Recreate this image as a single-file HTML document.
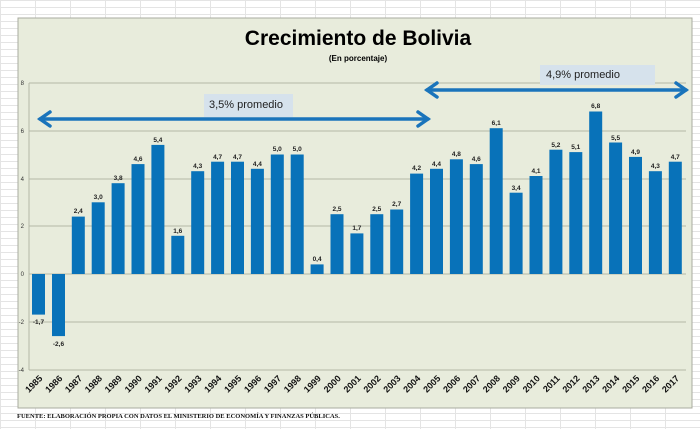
<!DOCTYPE html>
<html><head><meta charset="utf-8"><style>
body{margin:0;width:700px;height:429px;overflow:hidden;background:#fff;
background-image:linear-gradient(#e4e4e4 1px,transparent 1px),linear-gradient(90deg,#e4e4e4 1px,transparent 1px);
background-size:35px 7px,35px 7px;}
svg{position:absolute;left:0;top:0}
</style></head><body>
<svg width="700" height="429" font-family="Liberation Sans, sans-serif">
<rect x="18" y="18" width="674" height="390" fill="#e8ecdc" stroke="#a9ab9f"/>
<g stroke="#b4b8a6" stroke-width="1">
<line x1="29" y1="83" x2="686" y2="83"/><line x1="29" y1="131" x2="686" y2="131"/>
<line x1="29" y1="179" x2="686" y2="179"/><line x1="29" y1="226" x2="686" y2="226"/>
<line x1="29" y1="322" x2="686" y2="322"/><line x1="29" y1="370" x2="686" y2="370"/>
<line x1="29" y1="83" x2="29" y2="370"/><line x1="29" y1="274" x2="686" y2="274"/>
</g>
<g font-size="6" fill="#333" text-anchor="end">
<text x="24" y="85">8</text><text x="24" y="133">6</text><text x="24" y="181">4</text><text x="24" y="228">2</text><text x="24" y="276">0</text><text x="24" y="324">-2</text><text x="24" y="372">-4</text>
</g>
<text x="358" y="45" font-size="21" font-weight="bold" text-anchor="middle">Crecimiento de Bolivia</text>
<text x="358" y="61" font-size="8" font-weight="bold" text-anchor="middle">(En porcentaje)</text>
<g fill="#0872b9">
<rect x="32" y="274" width="13" height="40.6"/><rect x="52" y="274" width="13" height="62.1"/>
<rect x="71.8" y="216.6" width="13" height="57.4"/><rect x="91.7" y="202.3" width="13" height="71.7"/>
<rect x="111.6" y="183.2" width="13" height="90.8"/><rect x="131.5" y="164.1" width="13" height="109.9"/>
<rect x="151.4" y="144.9" width="13" height="129.1"/><rect x="171.3" y="235.8" width="13" height="38.2"/>
<rect x="191.2" y="171.2" width="13" height="102.8"/><rect x="211.1" y="161.7" width="13" height="112.3"/>
<rect x="231" y="161.7" width="13" height="112.3"/><rect x="250.9" y="168.8" width="13" height="105.2"/>
<rect x="270.8" y="154.5" width="13" height="119.5"/><rect x="290.7" y="154.5" width="13" height="119.5"/>
<rect x="310.6" y="264.4" width="13" height="9.6"/><rect x="330.5" y="214.2" width="13" height="59.8"/>
<rect x="350.4" y="233.4" width="13" height="40.6"/><rect x="370.3" y="214.2" width="13" height="59.8"/>
<rect x="390.2" y="209.5" width="13" height="64.5"/><rect x="410.1" y="173.6" width="13" height="100.4"/>
<rect x="430" y="168.8" width="13" height="105.2"/><rect x="449.9" y="159.3" width="13" height="114.7"/>
<rect x="469.8" y="164.1" width="13" height="109.9"/><rect x="489.7" y="128.2" width="13" height="145.8"/>
<rect x="509.6" y="192.7" width="13" height="81.3"/><rect x="529.5" y="176" width="13" height="98"/>
<rect x="549.4" y="149.7" width="13" height="124.3"/><rect x="569.3" y="152.1" width="13" height="121.9"/>
<rect x="589.2" y="111.5" width="13" height="162.5"/><rect x="609.1" y="142.5" width="13" height="131.5"/>
<rect x="629" y="156.9" width="13" height="117.1"/><rect x="648.9" y="171.2" width="13" height="102.8"/>
<rect x="668.8" y="161.7" width="13" height="112.3"/>
</g>
<g font-size="6.5" font-weight="bold" fill="#222" text-anchor="middle">
<text x="38.5" y="324">-1,7</text><text x="58.5" y="346">-2,6</text>
<text x="78.3" y="213">2,4</text><text x="98.2" y="199">3,0</text><text x="118.1" y="180">3,8</text>
<text x="138" y="161">4,6</text><text x="157.9" y="142">5,4</text><text x="177.8" y="233">1,6</text>
<text x="197.7" y="168">4,3</text><text x="217.6" y="159">4,7</text><text x="237.5" y="159">4,7</text>
<text x="257.4" y="166">4,4</text><text x="277.3" y="151">5,0</text><text x="297.2" y="151">5,0</text>
<text x="317.1" y="261">0,4</text><text x="337" y="211">2,5</text><text x="356.9" y="230">1,7</text>
<text x="376.8" y="211">2,5</text><text x="396.7" y="206">2,7</text><text x="416.6" y="170">4,2</text>
<text x="436.5" y="166">4,4</text><text x="456.4" y="156">4,8</text><text x="476.3" y="161">4,6</text>
<text x="496.2" y="125">6,1</text><text x="516.1" y="190">3,4</text><text x="536" y="173">4,1</text>
<text x="555.9" y="147">5,2</text><text x="575.8" y="149">5,1</text><text x="595.7" y="108">6,8</text>
<text x="615.6" y="140">5,5</text><text x="635.5" y="154">4,9</text><text x="655.4" y="168">4,3</text>
<text x="675.3" y="159">4,7</text>
</g>
<g font-size="9" font-weight="bold" fill="#111" text-anchor="end">
<text transform="translate(43,379) rotate(-45)">1985</text><text transform="translate(63,379) rotate(-45)">1986</text>
<text transform="translate(82.8,379) rotate(-45)">1987</text><text transform="translate(102.7,379) rotate(-45)">1988</text>
<text transform="translate(122.6,379) rotate(-45)">1989</text><text transform="translate(142.5,379) rotate(-45)">1990</text>
<text transform="translate(162.4,379) rotate(-45)">1991</text><text transform="translate(182.3,379) rotate(-45)">1992</text>
<text transform="translate(202.2,379) rotate(-45)">1993</text><text transform="translate(222.1,379) rotate(-45)">1994</text>
<text transform="translate(242,379) rotate(-45)">1995</text><text transform="translate(261.9,379) rotate(-45)">1996</text>
<text transform="translate(281.8,379) rotate(-45)">1997</text><text transform="translate(301.7,379) rotate(-45)">1998</text>
<text transform="translate(321.6,379) rotate(-45)">1999</text><text transform="translate(341.5,379) rotate(-45)">2000</text>
<text transform="translate(361.4,379) rotate(-45)">2001</text><text transform="translate(381.3,379) rotate(-45)">2002</text>
<text transform="translate(401.2,379) rotate(-45)">2003</text><text transform="translate(421.1,379) rotate(-45)">2004</text>
<text transform="translate(441,379) rotate(-45)">2005</text><text transform="translate(460.9,379) rotate(-45)">2006</text>
<text transform="translate(480.8,379) rotate(-45)">2007</text><text transform="translate(500.7,379) rotate(-45)">2008</text>
<text transform="translate(520.6,379) rotate(-45)">2009</text><text transform="translate(540.5,379) rotate(-45)">2010</text>
<text transform="translate(560.4,379) rotate(-45)">2011</text><text transform="translate(580.3,379) rotate(-45)">2012</text>
<text transform="translate(600.2,379) rotate(-45)">2013</text><text transform="translate(620.1,379) rotate(-45)">2014</text>
<text transform="translate(640,379) rotate(-45)">2015</text><text transform="translate(659.9,379) rotate(-45)">2016</text>
<text transform="translate(679.8,379) rotate(-45)">2017</text>
</g>
<rect x="204" y="94" width="89" height="23" fill="#d6e2ec"/>
<text x="209" y="108" font-size="11" fill="#222">3,5% promedio</text>
<rect x="540" y="65" width="115" height="20" fill="#d6e2ec"/>
<text x="546" y="78" font-size="11" fill="#222">4,9% promedio</text>
<g stroke="#1a74bb" stroke-width="3.5" fill="none" stroke-linecap="round">
<line x1="40" y1="119" x2="428" y2="119"/>
<polyline points="50,112 40,119 50,126"/><polyline points="418,112 428,119 418,126"/>
<line x1="427" y1="90" x2="686" y2="90"/>
<polyline points="437,83 427,90 437,97"/><polyline points="676,83 686,90 676,97"/>
</g>
<text x="17" y="418" font-family="Liberation Serif, serif" font-size="6.5" font-weight="bold" fill="#111">FUENTE: ELABORACIÓN PROPIA CON DATOS EL MINISTERIO DE ECONOMÍA Y FINANZAS PÚBLICAS.</text>
</svg>
</body></html>
